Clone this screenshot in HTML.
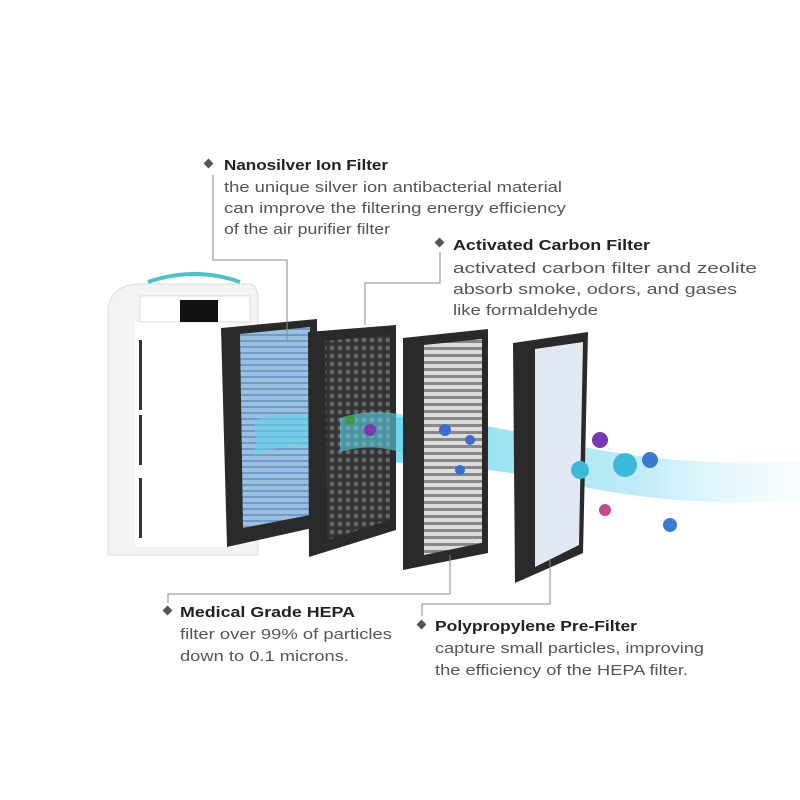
<!DOCTYPE html>
<html><head><style>
body{margin:0;background:#fff;}
svg{display:block}
text{font-family:"Liberation Sans",sans-serif}
.h{font-weight:bold;font-size:15px;fill:#222}
.b{font-size:14.5px;fill:#555}
.l{stroke:#888;stroke-width:1;fill:none}
</style></head><body>
<svg width="800" height="800" viewBox="0 0 800 800">
<defs>
<linearGradient id="flow" x1="0" x2="1"><stop offset="0" stop-color="#3cc8e6" stop-opacity="0.1"/><stop offset="0.2" stop-color="#3cc8e6" stop-opacity="0.7"/><stop offset="0.7" stop-color="#7ad8f0" stop-opacity="0.5"/><stop offset="1" stop-color="#bfeefa" stop-opacity="0.1"/></linearGradient>
<pattern id="slat" width="8" height="7" patternUnits="userSpaceOnUse"><rect width="8" height="7" fill="#dcdcdc"/><rect y="4" width="8" height="3" fill="#888"/></pattern>
<pattern id="blue" width="8" height="6" patternUnits="userSpaceOnUse"><rect width="8" height="6" fill="#9cc0e0"/><rect y="4" width="8" height="2" fill="#6f9bc8"/></pattern>
<pattern id="hex" width="8" height="8" patternUnits="userSpaceOnUse"><rect width="8" height="8" fill="#333"/><circle cx="4" cy="4" r="2.5" fill="#666"/></pattern>
</defs>
<path d="M108 310 Q110 285 140 284 L250 284 Q258 286 258 300 L258 555 L108 555 Z" fill="#f4f4f4" stroke="#ddd"/>
<rect x="135" y="322" width="100" height="225" fill="#fff"/>
<path d="M148 282 Q195 266 240 282" stroke="#4cc4c8" stroke-width="4" fill="none"/>
<rect x="140" y="296" width="110" height="26" fill="#fff" stroke="#ddd"/>
<rect x="180" y="300" width="38" height="22" fill="#111"/>
<rect x="139" y="340" width="3" height="70" fill="#333"/><rect x="139" y="415" width="3" height="50" fill="#333"/><rect x="139" y="478" width="3" height="60" fill="#333"/>
<path d="M250 430 Q400 400 550 440 Q680 470 800 460 L800 500 Q680 510 550 480 Q400 450 250 470 Z" fill="url(#flow)"/>
<polygon points="221,328 317,319 317,527 227,547" fill="#2a2a2a"/>
<polygon points="240,334 310,327 310,515 243,528" fill="url(#blue)"/>
<path d="M255 420 Q290 410 330 420 L330 450 Q290 440 255 455 Z" fill="#5fd4ea" opacity="0.6"/>
<polygon points="308,332 396,325 396,530 309,557" fill="#2a2a2a"/>
<polygon points="325,341 390,335 390,520 327,540" fill="url(#hex)"/>
<path d="M340 418 Q380 405 420 420 L420 460 Q380 440 340 452 Z" fill="#5fd4ea" opacity="0.6"/>
<polygon points="403,338 488,329 488,553 403,570" fill="#2a2a2a"/>
<polygon points="424,345 482,339 482,543 424,555" fill="url(#slat)"/>
<polygon points="513,343 588,332 583,553 515,583" fill="#2a2a2a"/>
<polygon points="535,349 583,342 579,545 535,567" fill="#e2e8f4"/>
<g fill="#3a6fd0"><circle cx="445" cy="430" r="6"/><circle cx="470" cy="440" r="5"/><circle cx="460" cy="470" r="5"/><circle cx="370" cy="430" r="6" fill="#7a3ab0"/><circle cx="350" cy="420" r="5" fill="#3a9a40"/></g>
<g fill="#3cb8d8"><circle cx="625" cy="465" r="12"/><circle cx="650" cy="460" r="8" fill="#3a7ad0"/><circle cx="600" cy="440" r="8" fill="#7a3ab0"/><circle cx="670" cy="525" r="7" fill="#3a7ad0"/><circle cx="605" cy="510" r="6" fill="#c04a8a"/><circle cx="580" cy="470" r="9"/></g>
<path class="l" d="M213 175 V260 H287 V340"/>
<path class="l" d="M440 252 V283 H365 V325"/>
<path class="l" d="M168 603 V594 H450 V555"/>
<path class="l" d="M422 616 V604 H550 V560"/>
<g fill="#555"><rect x="205" y="160" width="7" height="7" transform="rotate(45 208.5 163.5)"/>
<rect x="436" y="239" width="7" height="7" transform="rotate(45 439.5 242.5)"/>
<rect x="164" y="607" width="7" height="7" transform="rotate(45 167.5 610.5)"/>
<rect x="418" y="621" width="7" height="7" transform="rotate(45 421.5 624.5)"/></g>
<text class="h" x="224" y="170" textLength="164" lengthAdjust="spacingAndGlyphs">Nanosilver Ion Filter</text>
<text class="b" x="224" y="192" textLength="338" lengthAdjust="spacingAndGlyphs">the unique silver ion antibacterial material</text>
<text class="b" x="224" y="213" textLength="342" lengthAdjust="spacingAndGlyphs">can improve the filtering energy efficiency</text>
<text class="b" x="224" y="234" textLength="166" lengthAdjust="spacingAndGlyphs">of the air purifier filter</text>
<text class="h" x="453" y="250" textLength="197" lengthAdjust="spacingAndGlyphs">Activated Carbon Filter</text>
<text class="b" x="453" y="273" textLength="304" lengthAdjust="spacingAndGlyphs">activated carbon filter and zeolite</text>
<text class="b" x="453" y="294" textLength="284" lengthAdjust="spacingAndGlyphs">absorb smoke, odors, and gases</text>
<text class="b" x="453" y="315" textLength="145" lengthAdjust="spacingAndGlyphs">like formaldehyde</text>
<text class="h" x="180" y="617" textLength="175" lengthAdjust="spacingAndGlyphs">Medical Grade HEPA</text>
<text class="b" x="180" y="639" textLength="212" lengthAdjust="spacingAndGlyphs">filter over 99% of particles</text>
<text class="b" x="180" y="661" textLength="169" lengthAdjust="spacingAndGlyphs">down to 0.1 microns.</text>
<text class="h" x="435" y="631" textLength="202" lengthAdjust="spacingAndGlyphs">Polypropylene Pre-Filter</text>
<text class="b" x="435" y="653" textLength="269" lengthAdjust="spacingAndGlyphs">capture small particles, improving</text>
<text class="b" x="435" y="675" textLength="253" lengthAdjust="spacingAndGlyphs">the efficiency of the HEPA filter.</text>
</svg>
</body></html>
